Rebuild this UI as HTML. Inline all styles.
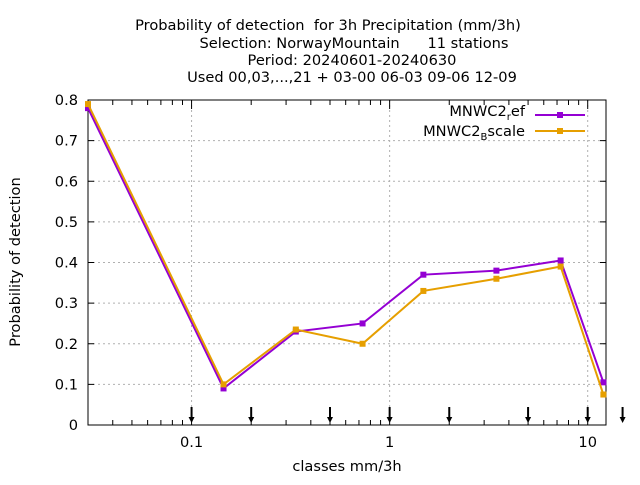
<!DOCTYPE html>
<html><head><meta charset="utf-8"><style>
body{margin:0;background:#fff}
svg text{font-family:"DejaVu Sans","Liberation Sans",sans-serif;fill:#000;white-space:pre}
</style></head><body>
<svg id="chart" width="640" height="480" viewBox="0 0 640 480" xmlns="http://www.w3.org/2000/svg">
<g font-size="14.6" text-anchor="middle">
<text x="328" y="30" xml:space="preserve">Probability of detection  for 3h Precipitation (mm/3h)</text>
<text x="354" y="48" xml:space="preserve">Selection: NorwayMountain      11 stations</text>
<text x="352" y="65">Period: 20240601-20240630</text>
<text x="352" y="82">Used 00,03,...,21 + 03-00 06-03 09-06 12-09</text>
</g>
<g id="grid"></g>
<g id="axes"></g>
<g id="series"></g>
<text x="347" y="471" font-size="14.6" text-anchor="middle">classes mm/3h</text>
<text transform="translate(20,262) rotate(-90)" font-size="14.6" text-anchor="middle">Probability of detection</text>
<g font-size="14.6" text-anchor="end">
<g>
<text x="525" y="116">MNWC2<tspan font-size="10" dy="4">r</tspan><tspan dy="-4">ef</tspan></text>
<line x1="535" y1="115" x2="585" y2="115" stroke="#9400d3" stroke-width="2"/>
<rect x="557" y="112" width="6" height="6" fill="#9400d3"/>
</g>
<g>
<text x="525" y="136">MNWC2<tspan font-size="10" dy="4">B</tspan><tspan dy="-4">scale</tspan></text>
<line x1="535" y1="131" x2="585" y2="131" stroke="#e69f00" stroke-width="2"/>
<rect x="557" y="128" width="6" height="6" fill="#e69f00"/>
</g>
</g>
</svg>
<script>
const classes=[0.03,0.145,0.336,0.73,1.48,3.46,7.3,12.0];
const refValues=[0.78,0.09,0.23,0.25,0.37,0.38,0.405,0.105];
const bscaleValues=[0.79,0.10,0.235,0.20,0.33,0.36,0.39,0.075];
const yTicks=[0,0.1,0.2,0.3,0.4,0.5,0.6,0.7,0.8];
const xTickLabels=[0.1,1,10];
const arrowClasses=[0.1,0.2,0.5,1,2,5,10,15];
const NS="http://www.w3.org/2000/svg";
const L=88,R=606,T=100,B=425;
const xMin=0.03,xMax=12.37;
function X(v){return L+(Math.log10(v)-Math.log10(xMin))/(Math.log10(xMax)-Math.log10(xMin))*(R-L);}
function Y(v){return B-v/0.8*(B-T);}
function mk(tag,attrs,parent){const e=document.createElementNS(NS,tag);for(const k in attrs)e.setAttribute(k,attrs[k]);parent.appendChild(e);return e;}
const grid=document.getElementById('grid'),axes=document.getElementById('axes'),series=document.getElementById('series');
yTicks.forEach(v=>{
 if(v>0&&v<0.8){const g=mk('line',{x1:L,x2:R,y1:Y(v),y2:Y(v),stroke:'#b0b0b0','stroke-dasharray':'2,3','stroke-width':1},grid);
 
 }
 const t=mk('text',{x:L-10,y:Y(v)+5,'font-size':14.6,'text-anchor':'end'},axes);t.textContent=v===0?'0':v.toFixed(1);
 
 
 mk('line',{x1:L,x2:L+6,y1:Y(v),y2:Y(v),stroke:'#000'},axes);
 mk('line',{x1:R,x2:R-6,y1:Y(v),y2:Y(v),stroke:'#000'},axes);
});
xTickLabels.forEach(v=>{
 const g=mk('line',{x1:X(v),x2:X(v),y1:T,y2:B,stroke:'#b0b0b0','stroke-dasharray':'2,3'},grid);
 
 
 const t=mk('text',{x:X(v),y:447,'font-size':14.6,'text-anchor':'middle'},axes);t.textContent=String(v);
 
 
});
for(let d=-2;d<=1;d++)for(let m=1;m<10;m++){const v=m*Math.pow(10,d);if(v<xMin||v>xMax)continue;const len=m===1?9:5;
 mk('line',{x1:X(v),x2:X(v),y1:B,y2:B-len,stroke:'#000'},axes);mk('line',{x1:X(v),x2:X(v),y1:T,y2:T+len,stroke:'#000'},axes);}
mk('rect',{x:L,y:T,width:R-L,height:B-T,fill:'none',stroke:'#000','stroke-width':1},axes);
arrowClasses.forEach(v=>{const x=X(v);
 const a=mk('g',{},axes);
 
 
 mk('line',{x1:x,x2:x,y1:407,y2:420,stroke:'#000','stroke-width':2},a);
 mk('path',{d:`M${x-3},${417}L${x+3},${417}L${x},${423}Z`,fill:'#000'},a);});
function draw(vals,color,name){
 const p=mk('polyline',{points:classes.map((c,i)=>X(c)+','+Y(vals[i])).join(' '),fill:'none',stroke:color,'stroke-width':2},series);
 
 
 classes.forEach((c,i)=>{const r=mk('rect',{x:X(c)-3,y:Y(vals[i])-3,width:6,height:6,fill:color},series);
 
 });
}
draw(refValues,'#9400d3','ref');
draw(bscaleValues,'#e69f00','bscale');
</script>
</body></html>
